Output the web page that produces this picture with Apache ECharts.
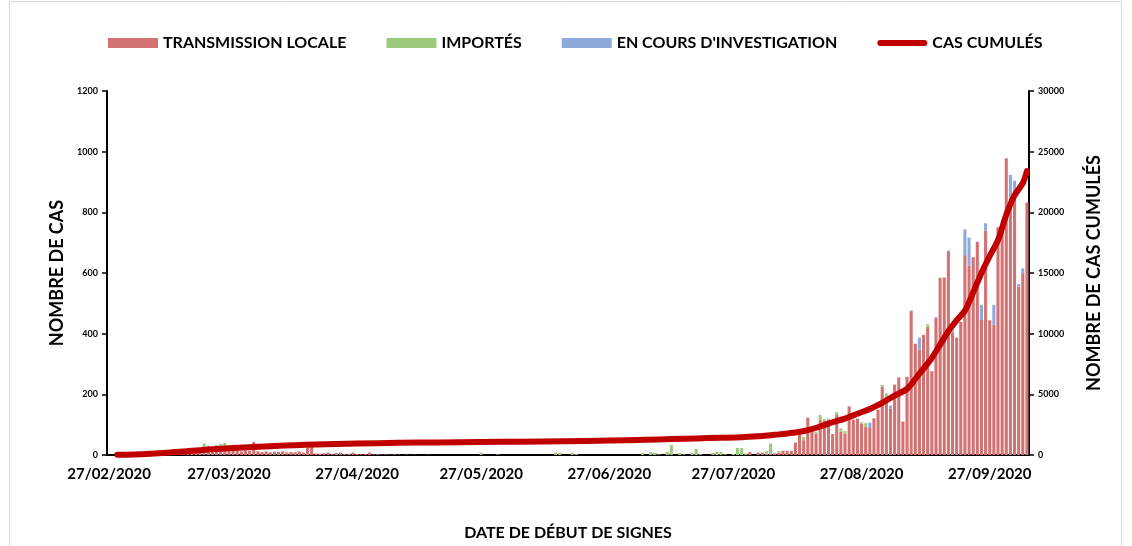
<!DOCTYPE html>
<html>
<head>
<meta charset="utf-8">
<script src="https://cdn.jsdelivr.net/npm/echarts@6/dist/echarts.min.js"></script>
<style>
html,body{margin:0;padding:0;background:#fff;}
#chart{width:1132px;height:546px;}
</style>
</head>
<body>
<div id="chart"></div>
<script>
// ---- DATA ----
var startDate = [2020, 2, 27];   // 27/02/2020, one category per day
var dayCount = 223;              // 27/02/2020 .. 06/10/2020
var labelDates = ['27/02/2020','27/03/2020','27/04/2020','27/05/2020','27/06/2020','27/07/2020','27/08/2020','27/09/2020'];
var seriesNames = ['TRANSMISSION LOCALE','IMPORTÉS',"EN COURS D'INVESTIGATION",'CAS CUMULÉS'];

// daily cases, index 0 = 27/02/2020
var localCases = [
 0,0,2,1,3,2,4,3,5,4, 6,5,7,8,9,8,6,6,7,8,
 8,10,10,20,16,14,18,20,24,15, 14,16,12,15,14,43,12,10,12,9,
 11,10,12,8,10,9,12,8,25,28, 5,4,6,8,3,6,8,3,4,8,
 3,2,3,8,2,3,1,2,1,2, 1,0,1,0,1,0,0,1,0,0,
 0,0,0,0,0,0,0,0,0,0, 0,0,0,0,0,0,0,0,0,0,
 0,0,0,0,0,0,0,0,0,0, 0,0,0,0,0,0,0,0,0,0,
 0,0,0,0,0,0,0,0,0,0, 0,0,0,0,0,0,0,0,0,0,
 0,0,0,0,0,0,0,0,0,0, 0,0,0,0,0,10,0,8,8,5,
 4,5,8,14,14,14,41,66,49,123, 77,70,115,112,116,69,132,77,70,160,
 117,120,104,93,89,121,149,225,193,152, 232,256,110,258,474,367,348,396,423,276,
 451,584,585,669,404,387,439,659,624,652, 703,445,740,444,430,751,751,977,850,876,
 555,599,832
];
var importedCases = [
 0,0,0,0,0,0,0,0,0,0, 0,0,0,0,0,0,6,5,6,8,
 6,12,8,18,15,11,15,16,16,4, 3,2,0,0,0,0,0,0,0,0,
 0,0,0,0,0,0,0,0,0,0, 0,0,0,0,0,0,0,0,0,0,
 0,0,0,0,0,0,0,0,0,0, 0,0,0,0,0,0,0,0,0,0,
 0,0,0,0,0,0,0,0,0,0, 8,0,0,0,2,0,0,0,0,0,
 0,0,0,0,0,0,0,0,8,8, 0,0,8,3,0,0,0,0,0,0,
 0,0,0,0,0,0,0,0,0,7, 0,10,7,2,0,10,33,0,7,2,
 0,7,20,3,0,0,7,10,10,2, 0,3,23,23,5,0,0,0,0,8,
 34,2,5,0,0,0,0,0,11,0, 0,7,17,6,4,0,9,11,9,0,
 0,0,4,12,0,0,0,6,10,0, 0,0,0,0,0,0,0,0,8,0,
 0,0,0,0,0,0,0,0,0,0, 0,0,0,0,0,0,0,0,0,0,
 0,0,0
];
var investigationCases = [
 0,0,0,0,0,0,0,0,0,0, 0,0,0,0,0,0,0,0,0,0,
 0,0,0,0,0,0,0,0,0,0, 0,0,0,0,0,0,0,0,0,0,
 0,0,0,0,0,0,0,0,0,0, 0,0,0,0,0,0,0,0,0,0,
 0,0,0,0,0,0,0,0,0,0, 0,0,0,0,0,0,0,0,0,0,
 0,0,0,0,0,0,0,0,0,0, 0,0,0,0,0,0,0,0,0,0,
 0,0,0,0,0,0,0,0,0,0, 0,0,0,0,0,0,0,0,0,0,
 0,0,0,0,0,0,0,0,0,0, 0,0,0,0,0,0,0,0,0,0,
 0,0,0,0,0,0,0,0,0,0, 0,0,0,0,0,0,0,0,0,0,
 0,0,0,0,0,0,0,0,0,0, 0,0,0,0,0,0,0,0,0,0,
 0,0,0,0,18,0,0,0,0,11, 0,0,0,0,3,0,39,0,0,0,
 4,0,0,5,6,0,0,85,93,0, 0,50,24,0,65,0,0,3,73,28,
 8,16,0
];
// cumulative cases: [day index, value]
var cumulIndex = [2,6,10,14,18,22,26,30,35,40,45,50,55,60,70,80,90,100,110,121,130,136,142,148,153,158,162,166,169,172,175,178,181,184,187,190,193,196,199,201,203,205,207,209,211,213,215,217,219,221,222];
var cumulValues = [20,50,110,190,290,400,490,570,660,740,810,870,910,950,1000,1040,1070,1100,1140,1190,1250,1310,1370,1420,1470,1560,1700,1850,2050,2350,2700,3000,3400,3800,4300,4900,5450,6700,8000,9100,10200,11100,11900,13400,15000,16400,17700,19800,21400,22400,23400];

// ---- BUILD ----
function pad(n){return (n<10?'0':'')+n;}
var categories = [];
for (var i=0;i<dayCount;i++){
  var d = new Date(Date.UTC(startDate[0], startDate[1]-1, startDate[2]+i));
  categories.push(pad(d.getUTCDate())+'/'+pad(d.getUTCMonth()+1)+'/'+d.getUTCFullYear());
}
var cumulData = cumulIndex.map(function(ix,k){return [categories[ix], cumulValues[k]];});

var FONT = 'Lato';
var plain = function(v){return String(v);};
var chart = echarts.init(document.getElementById('chart'));
chart.setOption({
  animation:false,
  textStyle:{fontFamily:FONT},
  graphic:[{type:'rect',shape:{x:9.5,y:1.5,width:1112,height:600},style:{fill:'none',stroke:'#d9d9d9',lineWidth:1},silent:true}],
  legend:{
    top:30,left:103,itemWidth:50,itemHeight:10,itemGap:40,
    textStyle:{fontFamily:FONT,fontSize:16,fontWeight:'bold',color:'#000'},
    data:[
      {name:seriesNames[0],icon:'rect'},
      {name:seriesNames[1],icon:'rect'},
      {name:seriesNames[2],icon:'rect'},
      {name:seriesNames[3],icon:'path://M0,0 M0,10 M3,2 L47,2 A3,3 0 0 1 47,8 L3,8 A3,3 0 0 1 3,2 Z'}
    ]
  },
  grid:{left:107,right:103,top:91,bottom:83},
  xAxis:{
    type:'category',data:categories,boundaryGap:true,
    axisLine:{lineStyle:{color:'#000',width:2}},
    axisTick:{show:false},
    axisLabel:{
      interval:function(idx,val){return labelDates.indexOf(val)>=0;},
      fontFamily:FONT,fontSize:15,fontWeight:'bold',color:'#000',margin:12
    },
    name:'DATE DE DÉBUT DE SIGNES',nameLocation:'middle',nameGap:70,
    nameTextStyle:{fontFamily:FONT,fontSize:16,fontWeight:'bold',color:'#000'}
  },
  yAxis:[{
    type:'value',min:0,max:1200,interval:200,
    axisLine:{show:true,lineStyle:{color:'#000',width:2}},
    axisTick:{show:true,length:5,lineStyle:{color:'#000',width:1.5}},
    splitLine:{show:false},
    axisLabel:{fontFamily:FONT,fontSize:9,fontWeight:'bold',color:'#000',margin:9,formatter:plain},
    name:'NOMBRE DE CAS',nameLocation:'middle',nameGap:41,nameRotate:90,
    nameTextStyle:{fontFamily:FONT,fontSize:18,fontWeight:'bold',color:'#000'}
  },{
    type:'value',min:0,max:30000,interval:5000,position:'right',
    axisLine:{show:true,lineStyle:{color:'#000',width:2}},
    axisTick:{show:true,length:5,lineStyle:{color:'#000',width:1.5}},
    splitLine:{show:false},
    axisLabel:{fontFamily:FONT,fontSize:9,fontWeight:'bold',color:'#000',margin:9,formatter:plain},
    name:'NOMBRE DE CAS CUMULÉS',nameLocation:'middle',nameGap:56,nameRotate:90,
    nameTextStyle:{fontFamily:FONT,fontSize:18,fontWeight:'bold',color:'#000'}
  }],
  series:[
    {name:seriesNames[0],type:'bar',stack:'cas',data:localCases,barCategoryGap:'25%',itemStyle:{color:'#D27272'}},
    {name:seriesNames[1],type:'bar',stack:'cas',data:importedCases,itemStyle:{color:'#9DCB7D'}},
    {name:seriesNames[2],type:'bar',stack:'cas',data:investigationCases,itemStyle:{color:'#8EAADD'}},
    {name:seriesNames[3],type:'line',yAxisIndex:1,data:cumulData,symbol:'none',smooth:0.3,
     itemStyle:{color:'#C00000'},
     lineStyle:{color:'#C00000',width:6,cap:'round',join:'round'}}
  ]
});
</script>
</body>
</html>
